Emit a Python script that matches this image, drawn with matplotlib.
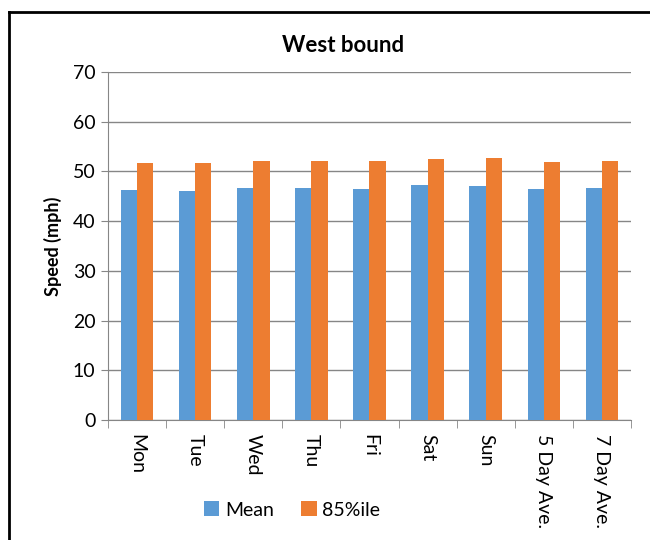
import matplotlib.pyplot as plt
import numpy as np
from matplotlib.lines import Line2D

days = ['Mon', 'Tue', 'Wed', 'Thu', 'Fri', 'Sat', 'Sun', '5 Day Ave.', '7 Day Ave.']
mean_speed = [46.3, 46.1, 46.6, 46.7, 46.5, 47.3, 47.1, 46.4, 46.6]
pct85_speed = [51.7, 51.7, 52.1, 52.1, 52.1, 52.6, 52.8, 51.9, 52.1]

plt.rcParams['font.family'] = ['Lato', 'DejaVu Sans']

fig = plt.figure(figsize=(6.5, 5.4), dpi=100)
ax = fig.add_axes([108 / 650, 1 - 420 / 540, 523 / 650, 348 / 540])

x = np.arange(len(days))
w = 0.28
ax.bar(x - w / 2, mean_speed, w, color='#5B9BD5', label='Mean', zorder=3)
ax.bar(x + w / 2, pct85_speed, w, color='#ED7D31', label='85%ile', zorder=3)

ax.set_xlim(-0.5, len(days) - 0.5)
ax.set_ylim(0, 70)
ax.set_yticks(range(0, 71, 10))
ax.tick_params(axis='y', labelsize=14, length=5, color='#868686', pad=4)
ax.grid(axis='y', color='#868686', linewidth=1, zorder=0)

# category labels between boundary ticks
ax.set_xticks(x)
ax.set_xticklabels(days, rotation=270, fontsize=14, va='top', ha='center')
ax.tick_params(axis='x', length=0, pad=10)
ax.set_xticks(np.arange(-0.5, len(days), 1), minor=True)
ax.tick_params(axis='x', which='minor', length=6, color='#868686')

for s in ['top', 'right']:
    ax.spines[s].set_visible(False)
for s in ['left', 'bottom']:
    ax.spines[s].set_color('#868686')

ax.set_ylabel('Speed (mph)', fontsize=13, fontweight='bold', labelpad=8)
fig.text(343 / 650, 1 - 45 / 540, 'West bound', ha='center', va='center',
         fontsize=16, fontweight='bold')

fig.legend(loc='center', bbox_to_anchor=(292 / 650, 1 - 510 / 540), ncol=2,
           frameon=False, fontsize=14, handlelength=0.8, handleheight=0.8,
           columnspacing=1.4, handletextpad=0.3)

# chart frame: only top and left edges are visible in the crop
fig.lines.append(Line2D([9 / 650, 1], [1 - 12 / 540] * 2, transform=fig.transFigure,
                        color='black', linewidth=2))
fig.lines.append(Line2D([9 / 650] * 2, [0, 1 - 12 / 540], transform=fig.transFigure,
                        color='black', linewidth=2))

fig.savefig('out.png', dpi=100)
